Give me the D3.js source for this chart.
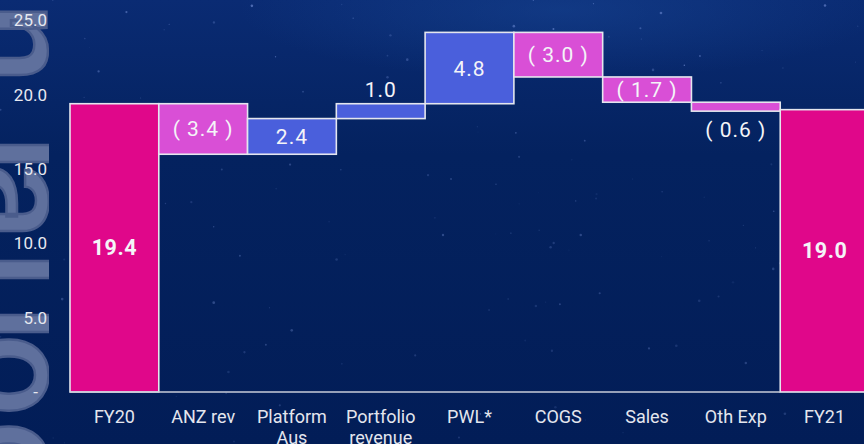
<!DOCTYPE html>
<html>
<head>
<meta charset="utf-8">
<script src="https://cdn.jsdelivr.net/npm/d3@7"></script>
<style>
html,body{margin:0;padding:0;background:#03205c;}
svg{display:block;font-family:Roboto,"Noto Sans",Arial,sans-serif;}
</style>
</head>
<body>
<svg id="chart" width="864" height="444"></svg>
<script>
// ---- data ----
const categories = ["FY20", "ANZ rev", "Platform Aus", "Portfolio revenue", "PWL*", "COGS", "Sales", "Oth Exp", "FY21"];
const values = [19.4, -3.4, 2.4, 1.0, 4.8, -3.0, -1.7, -0.6, 19.0];
const kinds = ["total", "change", "change", "change", "change", "change", "change", "change", "total"];
const categoryLines = [["FY20"], ["ANZ rev"], ["Platform", "Aus"], ["Portfolio", "revenue"], ["PWL*"], ["COGS"], ["Sales"], ["Oth Exp"], ["FY21"]];
const yTickValues = [0, 5, 10, 15, 20, 25];
const watermarkChars = ["n", "l", "a", "l", "l", "o", "o"];

const W = 864, H = 444;
const svg = d3.select("#chart");

// ---- background ----
const defs = svg.append("defs");
const bg = defs.append("linearGradient").attr("id", "bg").attr("x1", 0).attr("y1", 0).attr("x2", 0).attr("y2", 1);
bg.append("stop").attr("offset", "0%").attr("stop-color", "#0a2b73");
bg.append("stop").attr("offset", "35%").attr("stop-color", "#04225f");
bg.append("stop").attr("offset", "100%").attr("stop-color", "#021d57");
svg.append("rect").attr("width", W).attr("height", H).attr("fill", "url(#bg)");
const glow = defs.append("radialGradient").attr("id", "glow");
glow.append("stop").attr("offset", "0%").attr("stop-color", "#1a4a9a").attr("stop-opacity", 0.45);
glow.append("stop").attr("offset", "100%").attr("stop-color", "#1a4a9a").attr("stop-opacity", 0);
svg.append("ellipse").attr("cx", 560).attr("cy", 10).attr("rx", 320).attr("ry", 70).attr("fill", "url(#glow)");

// deterministic decorative stars
let seed = 7;
function lcg() { seed = (seed * 1103515245 + 12345) % 2147483648; return seed / 2147483648; }
const stars = svg.append("g");
for (let i = 0; i < 170; i++) {
  const sx = lcg() * W, sy = lcg() * H, r = 0.4 + lcg() * 1.0, o = 0.12 + lcg() * 0.35;
  stars.append("circle").attr("cx", sx).attr("cy", sy).attr("r", r).attr("fill", "#9fb8ff").attr("opacity", sy < 120 ? o : o * 0.6);
}

// ---- watermark (decorative rotated letters, clipped) ----
defs.append("clipPath").attr("id", "wmclip").append("rect").attr("x", 0).attr("y", 0).attr("width", 49).attr("height", H);
const wm = svg.append("g").attr("clip-path", "url(#wmclip)");
const wmStarts = [3, 135, 162, 251, 305, 334, 421];
watermarkChars.forEach((c, i) => {
  wm.append("text")
    .attr("transform", `translate(-30,${wmStarts[i]}) rotate(90)`)
    .attr("font-size", 145)
    .attr("font-weight", 500)
    .attr("fill", "#5f709d")
    .attr("stroke", "#4a5c8c")
    .attr("stroke-width", 2.5)
    .text(c);
});

// ---- scales ----
const x = d3.scaleBand().domain(categories).range([70, 869]).padding(0);
const y = d3.scaleLinear().domain([0, 25]).range([392, 20.5]);

// running totals
let cum = 0;
const bars = categories.map((c, i) => {
  let start, end;
  if (kinds[i] === "total") { start = 0; end = values[i]; cum = values[i]; }
  else { start = cum; end = cum + values[i]; cum = end; }
  return { cat: c, v: values[i], kind: kinds[i], start, end };
});

const colorOf = d => d.kind === "total" ? "#e0078a" : (d.v < 0 ? "#d94fd6" : "#4a5fdc");

// ---- y axis ----
const yAxis = d3.axisLeft(y).tickValues(yTickValues).tickSize(0).tickPadding(0)
  .tickFormat(d => d === 0 ? "-" : d3.format(".1f")(d));
const gy = svg.append("g").attr("transform", "translate(47,0)").call(yAxis);
gy.select(".domain").remove();
gy.selectAll("text").attr("font-size", 17).attr("fill", "#e6e8f0")
  .attr("font-family", "Roboto, sans-serif")
  .attr("dx", d => d === 0 ? -9 : 0);

// ---- bars ----
svg.append("g").selectAll("rect").data(bars).join("rect")
  .attr("x", d => x(d.cat))
  .attr("width", x.bandwidth())
  .attr("y", d => y(Math.max(d.start, d.end)))
  .attr("height", d => Math.abs(y(d.start) - y(d.end)))
  .attr("fill", colorOf)
  .attr("stroke", "#e4e6ee")
  .attr("stroke-width", 1.6);

// baseline
svg.append("line").attr("x1", x(categories[0])).attr("x2", x(categories[categories.length - 1]))
  .attr("y1", y(0)).attr("y2", y(0)).attr("stroke", "#c9ccd8").attr("stroke-width", 1.6);

// ---- bar labels ----
const fmt = d3.format(".1f");
svg.append("g").selectAll("text").data(bars).join("text")
  .attr("x", d => x(d.cat) + x.bandwidth() / 2)
  .attr("text-anchor", "middle")
  .attr("fill", "#f4f4f8")
  .attr("font-size", d => d.kind === "total" ? 21.5 : 21)
  .attr("font-weight", d => d.kind === "total" ? "bold" : "normal")
  .attr("letter-spacing", d => d.kind === "total" ? 0.5 : 1)
  .each(function (d) {
    const top = y(Math.max(d.start, d.end)), bot = y(Math.min(d.start, d.end));
    const h = bot - top;
    let yy;
    if (h > 20) yy = (top + bot) / 2 + 7.5;
    else if (d.v >= 0) yy = top - 7;
    else yy = bot + 26;
    d3.select(this).attr("y", yy);
  })
  .text(d => d.kind === "total" ? fmt(d.v) : (d.v < 0 ? `( ${fmt(-d.v)} )` : fmt(d.v)));

// ---- x labels ----
const gx = svg.append("g");
categories.forEach((c, i) => {
  const t = gx.append("text")
    .attr("x", x(c) + x.bandwidth() / 2)
    .attr("y", 423)
    .attr("text-anchor", "middle")
    .attr("font-size", 18)
    .attr("fill", "#e4e6ee");
  categoryLines[i].forEach((ln, j) => {
    t.append("tspan").attr("x", x(c) + x.bandwidth() / 2).attr("dy", j === 0 ? 0 : 21).text(ln);
  });
});
</script>
</body>
</html>
